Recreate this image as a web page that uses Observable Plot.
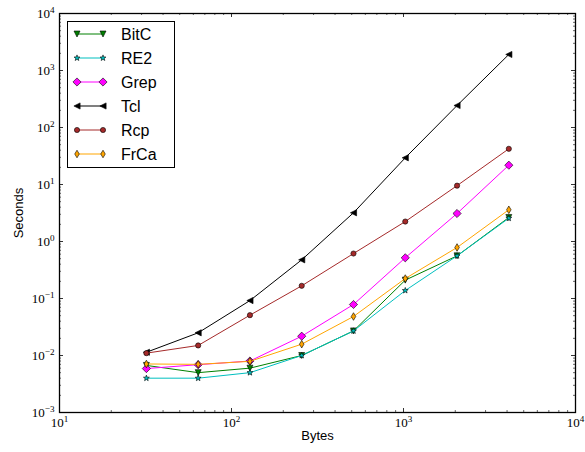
<!DOCTYPE html>
<html>
<head>
<meta charset="utf-8">
<script src="https://cdn.jsdelivr.net/npm/d3@7"></script>
<script src="https://cdn.jsdelivr.net/npm/@observablehq/plot@0.6"></script>
<style>
  html, body { margin: 0; padding: 0; background: #fff; }
  #wrap { position: relative; width: 585px; height: 452px; }
  #legend { position: absolute; left: 0; top: 0; pointer-events: none; }
</style>
</head>
<body>
<div id="wrap"></div>
<script>
// ---- data ----
const bytes = [32, 64, 128, 256, 512, 1024, 2048, 4096];
const seriesNames = ["BitC", "RE2", "Grep", "Tcl", "Rcp", "FrCa"];
const bitc = [0.0067, 0.0050, 0.0060, 0.0100, 0.027, 0.21, 0.56, 2.64];
const re2  = [0.0040, 0.0040, 0.0050, 0.0100, 0.027, 0.138, 0.56, 2.56];
const grep = [0.0059, 0.0069, 0.0080, 0.0218, 0.0785, 0.518, 3.1, 21.8];
const tcl  = [0.0114, 0.025, 0.092, 0.477, 3.19, 29.4, 243, 1910];
const rcp  = [0.0110, 0.015, 0.051, 0.167, 0.615, 2.24, 9.55, 42.3];
const frca = [0.0071, 0.0070, 0.0079, 0.0158, 0.0483, 0.224, 0.785, 3.6];
const seriesValues = [bitc, re2, grep, tcl, rcp, frca];
const xMajorTicks = [10, 100, 1000, 10000];
const yMajorTicks = [1e-3, 1e-2, 1e-1, 1, 10, 100, 1000, 10000];

// ---- styles ----
const colors = ["#008000", "#00bfbf", "#ff00ff", "#000000", "#a52a2a", "#ffa500"];
const rad = s => Math.sqrt(s / Math.PI);
const symTriDown = {draw(c, s) { const r = rad(s); c.moveTo(0, r); c.lineTo(-r, -r); c.lineTo(r, -r); c.closePath(); }};
const symTriLeft = {draw(c, s) { const r = rad(s); c.moveTo(-r, 0); c.lineTo(r, -r); c.lineTo(r, r); c.closePath(); }};
const symDiamond = {draw(c, s) { const r = rad(s); c.moveTo(0, -r); c.lineTo(r, 0); c.lineTo(0, r); c.lineTo(-r, 0); c.closePath(); }};
const symThinDiamond = {draw(c, s) { const r = rad(s); c.moveTo(0, -r); c.lineTo(0.6 * r, 0); c.lineTo(0, r); c.lineTo(-0.6 * r, 0); c.closePath(); }};
const symCircle = {draw(c, s) { const r = rad(s); c.moveTo(r, 0); c.arc(0, 0, r, 0, 2 * Math.PI); c.closePath(); }};
const symStar = {draw(c, s) {
  const R = rad(s), ri = R * 0.42;
  for (let k = 0; k < 10; k++) {
    const a = -Math.PI / 2 + k * Math.PI / 5, rr = k % 2 ? ri : R;
    const x = rr * Math.cos(a), y = rr * Math.sin(a);
    k ? c.lineTo(x, y) : c.moveTo(x, y);
  }
  c.closePath();
}};
const symbols = [symTriDown, symStar, symDiamond, symTriLeft, symCircle, symThinDiamond];
const markerR = [3.0, 3.1, 4.1, 3.1, 2.6, 3.8];

const W = 585, H = 452, mL = 59, mR = 10, mT = 13, mB = 40;
const FW = W - mL - mR, FH = H - mT - mB;

const rows = seriesNames.flatMap((name, i) =>
  bytes.map((b, j) => ({series: name, bytes: b, seconds: seriesValues[i][j]})));

function minorOf(majors) {
  const out = [];
  for (let i = 0; i < majors.length - 1; i++)
    for (let m = 2; m <= 9; m++) out.push(majors[i] * m);
  return out;
}
const xMinor = minorOf(xMajorTicks), yMinor = minorOf(yMajorTicks);

const marks = [];
// inward ticks on all four sides
marks.push(
  Plot.tickX(xMajorTicks, {x: d => d, insetTop: FH - 4, stroke: "black", strokeWidth: 0.8}),
  Plot.tickX(xMajorTicks, {x: d => d, insetBottom: FH - 4, stroke: "black", strokeWidth: 0.8}),
  Plot.tickX(xMinor, {x: d => d, insetTop: FH - 2, stroke: "black", strokeWidth: 0.6}),
  Plot.tickX(xMinor, {x: d => d, insetBottom: FH - 2, stroke: "black", strokeWidth: 0.6}),
  Plot.tickY(yMajorTicks, {y: d => d, insetRight: FW - 4, stroke: "black", strokeWidth: 0.8}),
  Plot.tickY(yMajorTicks, {y: d => d, insetLeft: FW - 4, stroke: "black", strokeWidth: 0.8}),
  Plot.tickY(yMinor, {y: d => d, insetRight: FW - 2, stroke: "black", strokeWidth: 0.6}),
  Plot.tickY(yMinor, {y: d => d, insetLeft: FW - 2, stroke: "black", strokeWidth: 0.6})
);
seriesNames.forEach((name, i) => {
  const d = rows.filter(r => r.series === name);
  marks.push(
    Plot.line(d, {x: "bytes", y: "seconds", stroke: colors[i], strokeWidth: 1}),
    Plot.dot(d, {x: "bytes", y: "seconds", symbol: symbols[i], r: markerR[i], fill: colors[i], stroke: "black", strokeWidth: 0.6})
  );
});
marks.push(
  Plot.frame({stroke: "black", strokeWidth: 1.3}),
  Plot.text(["Bytes"], {text: d => d, frameAnchor: "bottom", dy: 27, fontSize: 13, fontFamily: "Liberation Sans, Arial, sans-serif", fill: "black"}),
  Plot.text(["Seconds"], {text: d => d, frameAnchor: "left", dx: -41, rotate: -90, textAnchor: "middle", fontSize: 13, fontFamily: "Liberation Sans, Arial, sans-serif", fill: "black"})
);

const fmt = v => "10^" + Math.round(Math.log10(v));
const chart = Plot.plot({
  width: W, height: H,
  marginLeft: mL, marginRight: mR, marginTop: mT, marginBottom: mB,
  style: {fontFamily: "Liberation Serif, DejaVu Serif, serif", fontSize: "13px", color: "black", background: "white"},
  x: {type: "log", domain: [10, 10000], ticks: xMajorTicks, tickFormat: fmt, tickSize: 0, tickPadding: 5, label: null},
  y: {type: "log", domain: [1e-3, 1e4], ticks: yMajorTicks, tickFormat: fmt, tickSize: 0, tickPadding: 5, label: null},
  marks
});

// superscript exponents
chart.querySelectorAll("text").forEach(t => {
  const m = t.textContent.match(/^10\^(-?\d+)$/);
  if (!m) return;
  t.textContent = "";
  const ns = "http://www.w3.org/2000/svg";
  const a = document.createElementNS(ns, "tspan");
  a.textContent = "10";
  const b = document.createElementNS(ns, "tspan");
  b.textContent = m[1].replace("-", "\u2212");
  b.setAttribute("dy", "-0.5em");
  b.setAttribute("font-size", "0.7em");
  t.appendChild(a); t.appendChild(b);
});

const wrap = document.getElementById("wrap");
wrap.appendChild(chart);

// legend overlay
const lg = d3.select(wrap).append("svg").attr("id", "legend").attr("width", W).attr("height", H);
lg.append("rect").attr("x", 67.5).attr("y", 21.5).attr("width", 107).attr("height", 146)
  .attr("fill", "white").attr("stroke", "black").attr("stroke-width", 1);
seriesNames.forEach((name, i) => {
  const y = 34 + i * 24;
  const g = lg.append("g");
  g.append("line").attr("x1", 77).attr("x2", 103).attr("y1", y).attr("y2", y)
    .attr("stroke", colors[i]).attr("stroke-width", 1);
  [77, 103].forEach(x => {
    g.append("path").attr("transform", `translate(${x},${y})`)
      .attr("d", d3.symbol(symbols[i], Math.PI * markerR[i] * markerR[i])())
      .attr("fill", colors[i]).attr("stroke", "black").attr("stroke-width", 0.6);
  });
  g.append("text").attr("x", 121).attr("y", y).attr("dy", "0.35em")
    .attr("font-family", "Liberation Sans, Arial, sans-serif").attr("font-size", 16)
    .attr("fill", "black").text(name);
});
</script>
</body>
</html>
